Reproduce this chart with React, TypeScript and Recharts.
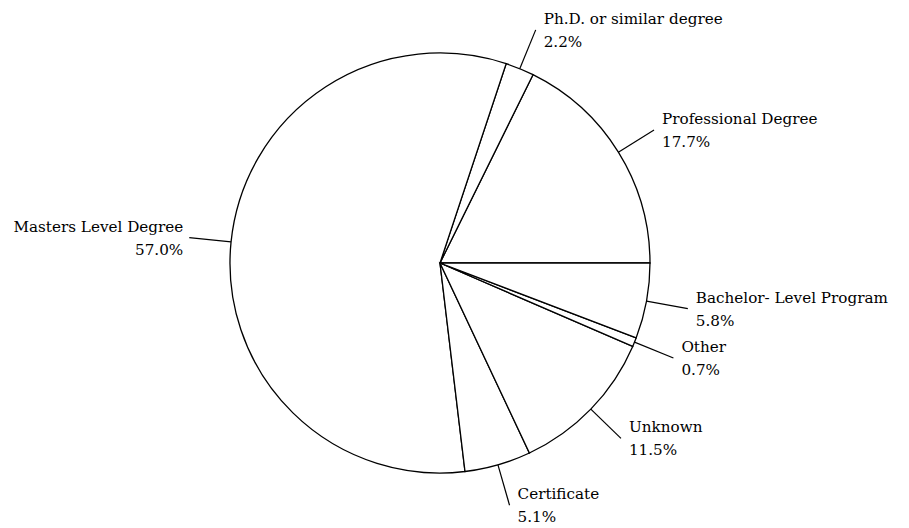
import React from "react";
import { PieChart, Pie, Cell } from "recharts";

const categories = [
  "Professional Degree",
  "Ph.D. or similar degree",
  "Masters Level Degree",
  "Certificate",
  "Unknown",
  "Other",
  "Bachelor- Level Program",
];
const shares = [17.7, 2.2, 57.0, 5.1, 11.5, 0.7, 5.8];

const data = categories.map((name, i) => ({ name, value: shares[i] }));

const RAD = Math.PI / 180;
const FONT = '"DejaVu Serif", serif';

const renderLabel = (props: any) => {
  const { cx, cy, midAngle, outerRadius, index, value } = props;
  const cos = Math.cos(-midAngle * RAD);
  const sin = Math.sin(-midAngle * RAD);
  const sx = cx + outerRadius * cos;
  const sy = cy + outerRadius * sin;
  const er = outerRadius + 42;
  const ex = cx + er * cos;
  const ey = cy + er * sin;
  const right = cos >= 0;
  const tx = right ? ex + 8 : ex - 6;
  return (
    <g key={`lab-${index}`}>
      <line x1={sx} y1={sy} x2={ex} y2={ey} stroke="#000" strokeWidth={1.2} />
      <text
        x={tx}
        y={ey - 6}
        textAnchor={right ? "start" : "end"}
        style={{ fontFamily: FONT, fontSize: 15.2 }}
        fill="#000"
      >
        <tspan x={tx} dy={0}>{categories[index]}</tspan>
        <tspan x={tx} dy={23}>{Number(value).toFixed(1)}%</tspan>
      </text>
    </g>
  );
};

export default function App() {
  return (
    <div style={{ position: "absolute", left: 0, top: 0, background: "#fff", fontFamily: FONT }}>
      <PieChart width={909} height={528} margin={{ top: 0, right: 0, bottom: 0, left: 0 }}>
        <Pie
          data={data}
          dataKey="value"
          nameKey="name"
          cx={440}
          cy={263}
          outerRadius={210}
          innerRadius={0}
          startAngle={0}
          endAngle={360}
          stroke="#000"
          strokeWidth={1.3}
          fill="#fff"
          label={renderLabel}
          labelLine={false}
          isAnimationActive={false}
        >
          {data.map((d, i) => (
            <Cell key={i} fill="#fff" stroke="#000" />
          ))}
        </Pie>
      </PieChart>
    </div>
  );
}
